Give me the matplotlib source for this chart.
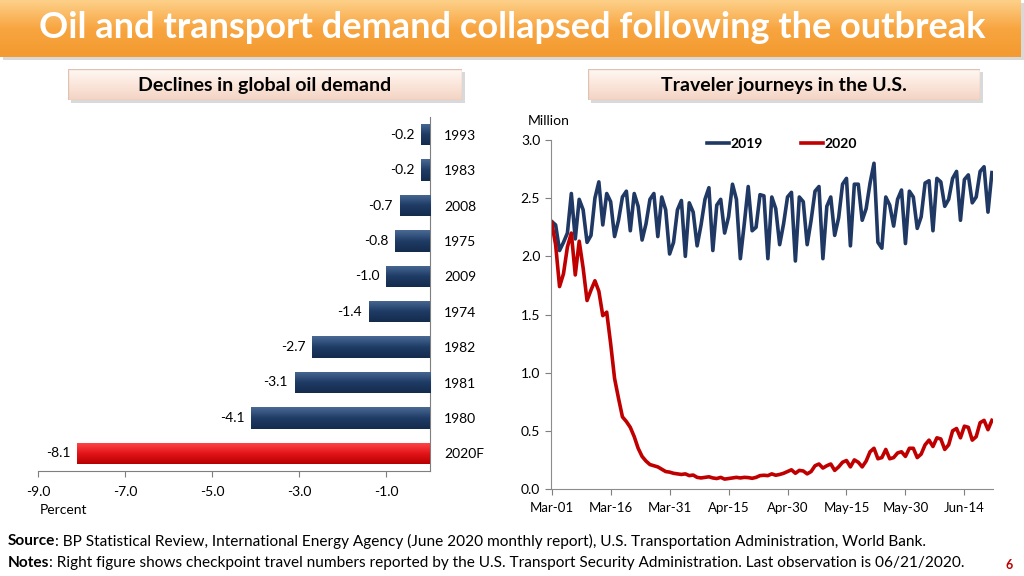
import matplotlib.pyplot as plt
import numpy as np
from matplotlib.patches import Rectangle
from matplotlib.colors import LinearSegmentedColormap

plt.rcParams['font.family'] = ['Lato', 'DejaVu Sans']

# left panel: declines in global oil demand (percent)
years = ['1993', '1983', '2008', '1975', '2009', '1974', '1982', '1981', '1980', '2020F']
declines = [-0.2, -0.2, -0.7, -0.8, -1.0, -1.4, -2.7, -3.1, -4.1, -8.1]
pct_ticks = [-9.0, -7.0, -5.0, -3.0, -1.0]

# right panel: TSA checkpoint travelers, million, daily from Mar-01
date_labels = ['Mar-01', 'Mar-16', 'Mar-31', 'Apr-15', 'Apr-30', 'May-15', 'May-30', 'Jun-14']
date_pos = [0, 15, 30, 45, 60, 75, 90, 105]
journeys_2019 = [
    2.30, 2.27, 2.05, 2.12, 2.20, 2.54, 2.15, 2.49, 2.40, 2.12,
    2.18, 2.50, 2.64, 2.27, 2.54, 2.47, 2.17, 2.31, 2.51, 2.56,
    2.22, 2.54, 2.43, 2.14, 2.28, 2.49, 2.54, 2.17, 2.51, 2.40,
    2.02, 2.12, 2.40, 2.48, 2.00, 2.46, 2.38, 2.09, 2.27, 2.49,
    2.59, 2.05, 2.44, 2.49, 2.20, 2.34, 2.62, 2.49, 1.98, 2.28,
    2.60, 2.22, 2.25, 2.53, 2.52, 1.98, 2.51, 2.41, 2.10, 2.28,
    2.51, 2.55, 1.96, 2.51, 2.47, 2.10, 2.31, 2.56, 2.60, 1.98,
    2.43, 2.51, 2.18, 2.33, 2.62, 2.67, 2.09, 2.62, 2.62, 2.31,
    2.41, 2.63, 2.80, 2.12, 2.07, 2.51, 2.44, 2.26, 2.49, 2.57,
    2.11, 2.56, 2.51, 2.24, 2.34, 2.63, 2.65, 2.22, 2.67, 2.64,
    2.43, 2.49, 2.67, 2.73, 2.31, 2.66, 2.70, 2.46, 2.51, 2.73,
    2.77, 2.38, 2.72,
]
journeys_2020 = [
    2.29, 2.10, 1.74, 1.85, 2.08, 2.20, 1.84, 2.13, 1.90, 1.62,
    1.71, 1.79, 1.70, 1.49, 1.52, 1.25, 0.95, 0.78, 0.62, 0.58,
    0.53, 0.45, 0.35, 0.28, 0.24, 0.21, 0.20, 0.19, 0.17, 0.15,
    0.145, 0.135, 0.13, 0.125, 0.13, 0.115, 0.12, 0.10, 0.095, 0.10,
    0.105, 0.095, 0.09, 0.10, 0.085, 0.09, 0.095, 0.10, 0.095, 0.10,
    0.098, 0.092, 0.10, 0.115, 0.118, 0.115, 0.13, 0.118, 0.125, 0.135,
    0.15, 0.165, 0.135, 0.16, 0.155, 0.13, 0.15, 0.20, 0.215, 0.18,
    0.20, 0.215, 0.16, 0.19, 0.23, 0.245, 0.19, 0.25, 0.23, 0.19,
    0.24, 0.32, 0.35, 0.26, 0.27, 0.34, 0.26, 0.27, 0.31, 0.32,
    0.28, 0.35, 0.35, 0.27, 0.30, 0.38, 0.42, 0.365, 0.44, 0.43,
    0.34, 0.38, 0.50, 0.52, 0.44, 0.54, 0.53, 0.42, 0.45, 0.57,
    0.59, 0.51, 0.59,
]

W, H = 1024, 576
fig = plt.figure(figsize=(W / 100, H / 100), dpi=100)


def box(x0, y0, x1, y1):
    # pixel box (top-left origin) -> figure rect
    return [x0 / W, 1 - y1 / H, (x1 - x0) / W, (y1 - y0) / H]


def fx(x):
    return x / W


def fy(y):
    return 1 - y / H


grad = np.linspace(0, 1, 64).reshape(-1, 1)


def gradient_panel(rect, colors_, shadow=True):
    if shadow:
        r = rect
        fig.add_artist(Rectangle((r[0] + 3 / W, r[1] - 3 / H), r[2], r[3],
                                 transform=fig.transFigure, color='#000000', alpha=0.15,
                                 lw=0, zorder=-5))
    ax = fig.add_axes(rect)
    cmap = LinearSegmentedColormap.from_list('g', colors_)
    ax.imshow(grad, aspect='auto', cmap=cmap, extent=[0, 1, 0, 1], origin='upper')
    ax.set_xlim(0, 1)
    ax.set_ylim(0, 1)
    ax.axis('off')
    return ax


# title banner
gradient_panel(box(0, 0, 1021, 57), ['#FDD089', '#F8A540', '#F39A30'])
fig.text(fx(512), fy(28), 'Oil and transport demand collapsed following the outbreak',
         ha='center', va='center', fontsize=26, fontweight='bold', color='white')

# panel headers
for (x0, x1), label in [((68, 462), 'Declines in global oil demand'),
                        ((588, 980), 'Traveler journeys in the U.S.')]:
    hax = gradient_panel(box(x0, 69, x1, 100), ['#FFF8F4', '#FBE6DB', '#F3D4C4'])
    hax.add_patch(Rectangle((0, 0), 1, 1, fill=False, ec='#E0C2B2', lw=1))
    fig.text(fx((x0 + x1) / 2), fy(85), label, ha='center', va='center',
             fontsize=14, fontweight='bold', color='black')

# left bar chart
ax1 = fig.add_axes(box(38, 117, 430, 471))
pos = np.arange(len(years))
colors = ['#1F3C66'] * (len(years) - 1) + ['#E3161B']
bars = ax1.barh(pos, declines, height=0.6, color=colors, zorder=2)
for b, c in zip(bars, colors):
    if c == '#E3161B':
        cm = LinearSegmentedColormap.from_list('r', ['#FF4A4A', '#E3161B', '#B80000'])
    else:
        cm = LinearSegmentedColormap.from_list('n', ['#4A6A95', '#1F3C66', '#142B4C'])
    x0, y0 = b.get_x(), b.get_y()
    im = ax1.imshow(grad, aspect='auto', cmap=cm,
                    extent=[x0, x0 + b.get_width(), y0 + b.get_height(), y0],
                    origin='upper', zorder=3)
    im.set_clip_path(b)
for i, v in enumerate(declines):
    ax1.annotate(f'{v:.1f}', (v, i), xytext=(-5, 0), textcoords='offset points',
                 ha='right', va='center', fontsize=10)
ax1.set_xlim(-9, 0)
ax1.set_ylim(len(years) - 0.5, -0.5)
ax1.set_xticks(pct_ticks)
ax1.set_xticklabels([f'{t:.1f}' for t in pct_ticks], fontsize=10)
ax1.yaxis.tick_right()
ax1.set_yticks(pos)
ax1.set_yticklabels(years, fontsize=10)
ax1.tick_params(axis='y', length=0, pad=10)
ax1.tick_params(axis='x', length=4, color='#7F7F7F', pad=7)
for s in ['left', 'top']:
    ax1.spines[s].set_visible(False)
for s in ['right', 'bottom']:
    ax1.spines[s].set_color('#7F7F7F')
ax1.set_facecolor('none')
fig.text(fx(40), fy(510), 'Percent', ha='left', va='center', fontsize=10)

# right line chart
ax2 = fig.add_axes(box(550.7, 140, 992.7, 489))
days = np.arange(len(journeys_2019))
ax2.plot(days, journeys_2019, color='#1F3864', lw=2.6, label='2019', solid_joinstyle='round')
ax2.plot(days, journeys_2020, color='#C00000', lw=2.6, label='2020', solid_joinstyle='round')
ax2.set_xlim(-0.25, 112.2)
ax2.set_ylim(0, 3.0)
yt = np.arange(0, 3.01, 0.5)
ax2.set_yticks(yt)
ax2.set_yticklabels([f'{t:.1f}' for t in yt], fontsize=10)
ax2.set_xticks(date_pos)
ax2.set_xticklabels(date_labels, fontsize=9.5)
ax2.tick_params(length=4, color='#7F7F7F')
ax2.tick_params(axis='x', pad=5)
for s in ['right', 'top']:
    ax2.spines[s].set_visible(False)
for s in ['left', 'bottom']:
    ax2.spines[s].set_color('#8C8C8C')
fig.text(fx(528), fy(121), 'Million', ha='left', va='center', fontsize=10)
ax2.legend(ncol=2, loc='center', bbox_to_anchor=(fx(782), fy(144)), bbox_transform=fig.transFigure,
           frameon=False, handlelength=1.6, columnspacing=2.7, handletextpad=0.1,
           prop={'weight': 'bold', 'size': 10})

# footer
renderer = fig.canvas.get_renderer()
for y, head, rest in [
    (541, 'Source', ': BP Statistical Review, International Energy Agency (June 2020 monthly report), '
                    'U.S. Transportation Administration, World Bank.'),
    (563, 'Notes', ': Right figure shows checkpoint travel numbers reported by the U.S. Transport '
                   'Security Administration. Last observation is 06/21/2020.'),
]:
    t = fig.text(fx(8), fy(y), head, ha='left', va='center', fontsize=11.1, fontweight='bold')
    bb = t.get_window_extent(renderer)
    fig.text(bb.x1 / W, fy(y), rest, ha='left', va='center', fontsize=11.1)
fig.text(fx(1009), fy(565), '6', ha='center', va='center', fontsize=9,
         fontweight='bold', color='#C00000')

fig.savefig('out.png', dpi=100)
